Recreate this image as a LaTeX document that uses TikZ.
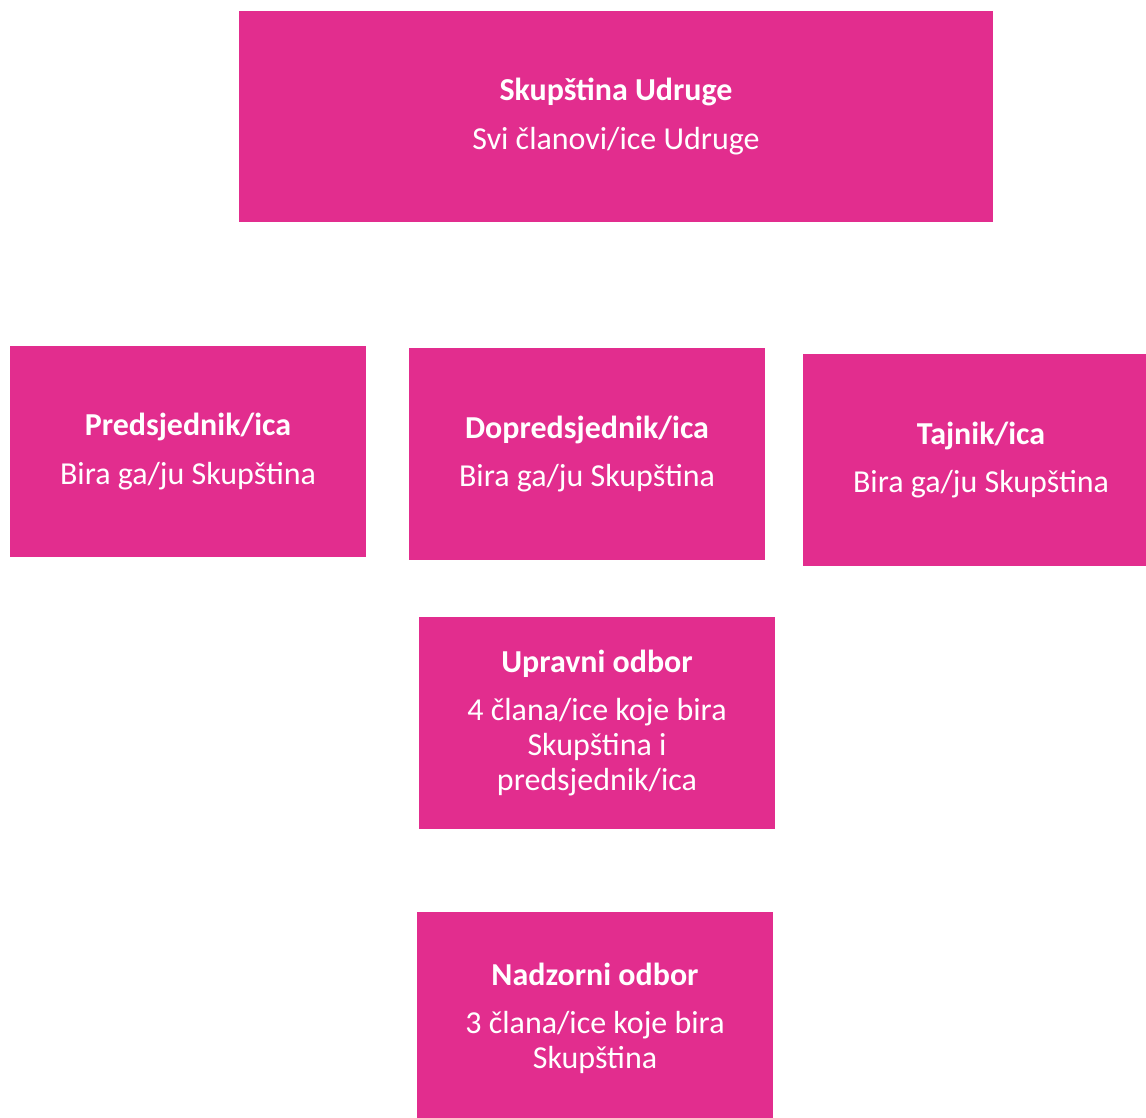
\documentclass[tikz,border=0pt]{standalone}
\usepackage{fontspec}
\setmainfont{Carlito}
\usepackage{tikz}
\usetikzlibrary{positioning}

\definecolor{boxpink}{HTML}{E22D8E}

\tikzset{
    orgbox/.style={fill=boxpink, draw=none, text=white, align=center,
        minimum width=7.12cm, minimum height=4.24cm, inner sep=0pt,
        font=\fontsize{18.2}{19.9}\selectfont},
}

\begin{document}
\begin{tikzpicture}[x=0.02cm, y=-0.02cm]
    \useasboundingbox (0,0) rectangle (1146,1118);
    \clip (0,0) rectangle (1146,1118);
    % Top: the assembly
    \node[orgbox, minimum width=15.08cm, minimum height=4.22cm] (skupstina) at (616,116.5)
        {\textbf{Skupština Udruge}\\[7.5pt]Svi članovi/ice Udruge};
    % Elected officers
    \node[orgbox] (predsjednik) at (188,451.5)
        {\textbf{Predsjednik/ica}\\[7.5pt]Bira ga/ju Skupština};
    \node[orgbox] (dopredsjednik) at (587,454)
        {\textbf{Dopredsjednik/ica}\\[7.5pt]Bira ga/ju Skupština};
    \node[orgbox] (tajnik) at (981,460)
        {\textbf{Tajnik/ica}\\[7.5pt]Bira ga/ju Skupština};
    % Boards
    \node[orgbox] (upravni) at (597,723)
        {\textbf{Upravni odbor}\\[7.5pt]4 člana/ice koje bira\\Skupština i\\predsjednik/ica};
    \node[orgbox] (nadzorni) at (595,1018)
        {\textbf{Nadzorni odbor}\\[7.5pt]3 člana/ice koje bira\\Skupština};
\end{tikzpicture}
\end{document}
